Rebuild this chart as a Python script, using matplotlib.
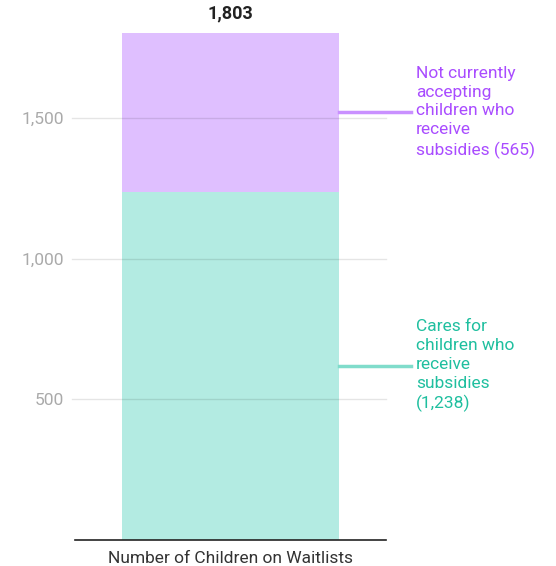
import matplotlib
matplotlib.use("Agg")
import matplotlib.pyplot as plt

categories = ["Number of Children on Waitlists"]
cares = [1238]
not_accepting = [565]
total_label = "1,803"
yticks = [500, 1000, 1500]
ytick_labels = ["500", "1,000", "1,500"]
label_cares = "Cares for\nchildren who\nreceive\nsubsidies\n(1,238)"
label_not = "Not currently\naccepting\nchildren who\nreceive\nsubsidies (565)"

plt.rcParams['font.family'] = ['Roboto', 'DejaVu Sans']

W, H = 556, 566
fig = plt.figure(figsize=(W/100, H/100), dpi=100)
ax = fig.add_axes([75/W, (H-539.5)/H, (386-75)/W, (539.5-33)/H])

x = [0]
total = cares[0] + not_accepting[0]
ax.bar(x, cares, width=0.7, color="#b3ebe2", zorder=1)
ax.bar(x, not_accepting, bottom=cares, width=0.7, color="#dfbfff", zorder=1)

ax.set_xlim(-0.5, 0.5)
ax.set_ylim(0, total)
ax.set_yticks(yticks)
ax.set_yticklabels(ytick_labels, color="#aaaaaa", fontsize=12.5)
ax.tick_params(axis='y', length=0, pad=8)
ax.set_xticks(x)
ax.set_xticklabels(categories, color="#333333", fontsize=12.5)
ax.tick_params(axis='x', length=0, pad=8)
for yv in yticks:
    ax.axhline(yv, xmin=-0.01, xmax=1, color="#000000", alpha=0.1, lw=1, zorder=2, clip_on=False)
for s in ["top", "right", "left"]:
    ax.spines[s].set_visible(False)
ax.spines["bottom"].set_color("#222222")
ax.spines["bottom"].set_linewidth(1.2)

ax.text(0, total + 38, total_label, ha="center", va="bottom", fontsize=13,
        fontweight="bold", color="#222222", clip_on=False)

mid_not = cares[0] + not_accepting[0] / 2
mid_cares = cares[0] / 2
ax.plot([0.35, 0.58], [mid_not, mid_not], color="#c990ff", lw=2.5, clip_on=False, zorder=3)
ax.plot([0.35, 0.58], [mid_cares, mid_cares], color="#80dccb", lw=2.5, clip_on=False, zorder=3)
ax.text(0.596, mid_not, label_not, ha="left", va="center", fontsize=12.5,
        color="#a94cff", linespacing=1.33, clip_on=False)
ax.text(0.596, mid_cares, label_cares, ha="left", va="center", fontsize=12.5,
        color="#1fbf9f", linespacing=1.33, clip_on=False)

fig.savefig("out.png", dpi=100)
